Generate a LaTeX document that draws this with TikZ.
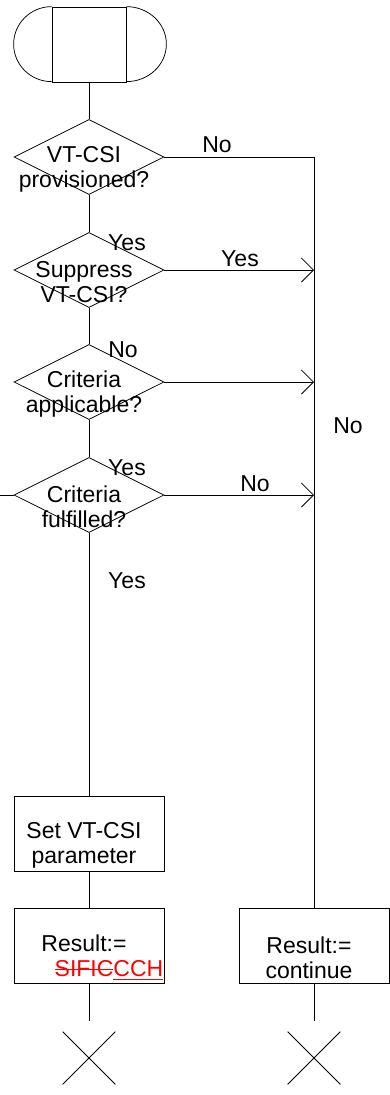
\documentclass[tikz,border=0pt]{standalone}
\usepackage{fontspec}
\setmainfont{Liberation Sans}
\usepackage{tikz}
\usetikzlibrary{shapes.geometric,shapes.misc}
\usetikzlibrary{arrows.meta}

\newcommand\strk[1]{\setbox0\hbox{#1}\rlap{\rule[0.3em]{\wd0}{0.8pt}}\box0}
\newcommand\undl[1]{\setbox0\hbox{#1}\rlap{\rule[-0.15em]{\wd0}{0.8pt}}\box0}

\begin{document}
\begin{tikzpicture}[x=1pt, y=1pt, line width=0.75pt,
		every node/.style={font=\fontsize{23}{25}\selectfont},
		dec/.style={diamond, draw, minimum width=150pt, minimum height=75pt, inner sep=0pt},
		act/.style={rectangle, draw, minimum width=150pt, minimum height=75pt, inner sep=0pt},
		txt/.style={align=center, inner sep=0pt, xshift=-5pt, yshift=-12pt},
		lbl/.style={inner sep=0pt},
		stopx/.style={cross out, draw, minimum size=52pt, inner sep=0pt},
		>={Straight Barb[length=12pt, width=24pt]}]
		\useasboundingbox (0,0) rectangle (390,-1095);
		% start symbol
		\node[act, minimum width=74pt] (start) at (89,-44.5) {};
		\draw (start.north west) arc[start angle=90, end angle=270, x radius=38pt, y radius=37.5pt];
		\draw (start.north east) arc[start angle=90, end angle=-90, x radius=40pt, y radius=37.5pt];
		% decisions
		\node[dec] (d1) at (89,-157) {};
		\node[txt] (t1) at (d1) {VT-CSI\\provisioned?};
		\node[dec] (d2) at (89,-270) {};
		\node[txt] (t2) at (d2) {Suppress\\VT-CSI?};
		\node[dec] (d3) at (89,-382) {};
		\node[txt] (t3) at (d3) {Criteria\\applicable?};
		\node[dec] (d4) at (89,-495) {};
		\node[txt] (t4) at (d4) {Criteria\\fulfilled?};
		% tasks
		\node[act] (set) at (89,-833.5) {};
		\node[txt] (t5) at (set) {Set VT-CSI\\parameter};
		\node[act] (r1) at (89,-945.5) {};
		\node[txt] (t6) at (r1) {Result:=\\\hspace*{50pt}{\color{red}\strk{SIFIC}\undl{CCH}}};
		\node[act] (r2) at (314,-945.5) {};
		\node[txt] (t7) at (r2) {Result:=\\continue};
		% stops
		\node[stopx] (x1) at (89,-1058) {};
		\node[stopx] (x2) at (314,-1058) {};
		\coordinate (entry) at (0,-495);
		\coordinate (c1) at (314,-157);
		\coordinate (e1) at (89,-1021);
		\coordinate (e2) at (314,-1021);
		% connectors
		\draw (start) -- (d1);
		\draw (d1) -- (d2);
		\draw (d2) -- (d3);
		\draw (d3) -- (d4);
		\draw (d4) -- (set);
		\draw (set) -- (r1);
		\draw (r1) -- (e1);
		\draw (r2) -- (e2);
		\draw (entry) -- (d4);
		\draw (d1) -- (c1) -- (r2);
		\path[->]
		(d2) edge (d2 -| r2)
		(d3) edge (d3 -| r2)
		(d4) edge (d4 -| r2);
		% labels
		\node[lbl] (n1) at (217,-145) {No};
		\node[lbl] (y1) at (127,-243) {Yes};
		\node[lbl] (y2) at (240,-259) {Yes};
		\node[lbl] (n2) at (123,-350) {No};
		\node[lbl] (n3) at (348,-426) {No};
		\node[lbl] (y3) at (127,-468) {Yes};
		\node[lbl] (n4) at (255,-484) {No};
		\node[lbl] (y4) at (127,-581) {Yes};
\end{tikzpicture}
\end{document}
